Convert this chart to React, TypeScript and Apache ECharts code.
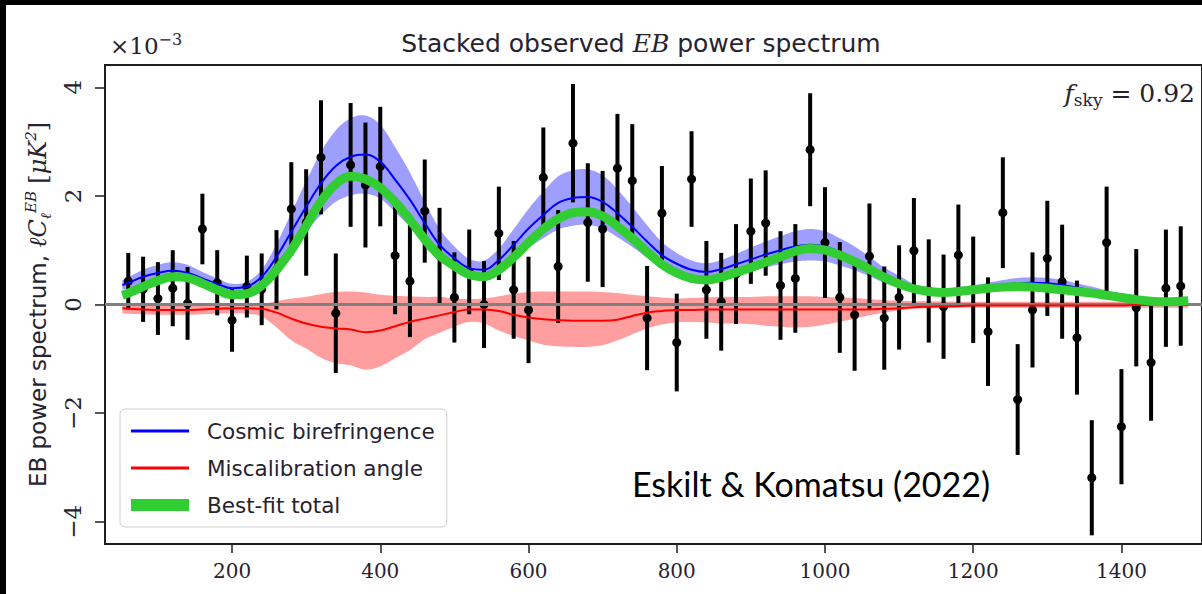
import { useEffect, useRef } from "react";
import * as echarts from "echarts";

// Axis ranges (multipole ell on x, power in units of 1e-3 uK^2 on y)
const X_MIN = 28.6;
const X_MAX = 1508.7;
const Y_MIN = -4.41;
const Y_MAX = 4.41;

const xTicks = [200, 400, 600, 800, 1000, 1200, 1400];
const yTicks = [-4, -2, 0, 2, 4];

// Binned, stacked observed EB band powers
const binEll = [
  60, 80, 100, 120, 140, 160, 180, 200, 220, 240,
  260, 280, 300, 320, 340, 360, 380, 400, 420, 440,
  460, 480, 500, 520, 540, 560, 580, 600, 620, 640,
  660, 680, 700, 720, 740, 760, 780, 800, 820, 840,
  860, 880, 900, 920, 940, 960, 980, 1000, 1020, 1040,
  1060, 1080, 1100, 1120, 1140, 1160, 1180, 1200, 1220, 1240,
  1260, 1280, 1300, 1320, 1340, 1360, 1380, 1400, 1420, 1440,
  1460, 1480,
];
const binPower = [
  0.43, 0.28, 0.11, 0.30, 0.02, 1.39, 0.40, -0.29, 0.33, 0.28,
  0.64, 1.76, 1.51, 2.71, -0.16, 2.57, 2.20, 2.54, 0.90, 0.43,
  1.72, 0.90, 0.13, 0.60, 0.00, 1.31, 0.27, -0.10, 2.34, 0.70,
  2.97, 1.51, 1.39, 2.51, 2.28, -0.25, 1.68, -0.70, 2.31, 0.27,
  0.05, 0.56, 1.35, 1.50, 0.35, 0.48, 2.85, 1.14, 0.13, -0.19,
  0.89, -0.25, 0.13, 0.99, 0.25, -0.04, 0.91, 0.27, -0.50, 1.69,
  -1.75, -0.10, 0.85, 0.42, -0.61, -3.19, 1.14, -2.25, -0.06, -1.07,
  0.30, 0.34,
];
const binError = [
  0.52, 0.60, 0.67, 0.70, 0.67, 0.65, 0.60, 0.58, 0.57, 0.66,
  0.73, 0.86, 0.98, 1.05, 1.10, 1.14, 1.15, 1.10, 1.08, 1.03,
  0.95, 0.88, 0.83, 0.78, 0.80, 0.86, 0.90, 0.98, 0.92, 1.04,
  1.09, 1.09, 1.07, 1.00, 1.04, 0.96, 0.87, 0.90, 0.88, 0.90,
  0.90, 0.92, 0.97, 0.97, 1.00, 1.00, 1.04, 1.02, 1.02, 1.03,
  0.97, 0.95, 0.96, 0.97, 0.95, 0.96, 0.93, 0.98, 1.00, 1.02,
  1.02, 1.06, 1.06, 1.05, 1.05, 1.06, 1.03, 1.06, 1.08, 1.07,
  1.08, 1.10,
];

// Model curves, sampled at the bin centres plus the two end points
const curveEll = [52, ...binEll, 1490];
const totalFit = [
  0.17, 0.21, 0.33, 0.44, 0.51, 0.49, 0.39, 0.27, 0.18, 0.20,
  0.35, 0.64, 1.00, 1.45, 1.90, 2.22, 2.36, 2.31, 2.15, 1.89,
  1.56, 1.20, 0.90, 0.71, 0.55, 0.51, 0.64, 0.87, 1.14, 1.39,
  1.58, 1.69, 1.71, 1.63, 1.44, 1.22, 0.97, 0.74, 0.58, 0.48,
  0.45, 0.50, 0.59, 0.68, 0.78, 0.88, 0.98, 1.03, 1.00, 0.91,
  0.79, 0.65, 0.50, 0.38, 0.29, 0.24, 0.22, 0.24, 0.27, 0.30,
  0.32, 0.33, 0.32, 0.30, 0.27, 0.24, 0.21, 0.17, 0.13, 0.09,
  0.06, 0.05, 0.06, 0.07,
];
const cosmicFit = [
  0.36, 0.40, 0.51, 0.58, 0.62, 0.58, 0.48, 0.38, 0.30, 0.33,
  0.51, 0.88, 1.34, 1.80, 2.23, 2.55, 2.72, 2.76, 2.63, 2.30,
  1.93, 1.50, 1.10, 0.85, 0.67, 0.64, 0.82, 1.10, 1.40, 1.65,
  1.87, 1.96, 1.98, 1.89, 1.68, 1.43, 1.16, 0.91, 0.75, 0.64,
  0.60, 0.65, 0.74, 0.83, 0.92, 1.00, 1.07, 1.10, 1.07, 0.97,
  0.85, 0.70, 0.54, 0.42, 0.30, 0.25, 0.23, 0.25, 0.28, 0.32,
  0.36, 0.39, 0.40, 0.39, 0.36, 0.31, 0.26, 0.21, 0.16, 0.12,
  0.09, 0.07, 0.07, 0.07,
];
const cosmicUpper = [
  0.45, 0.50, 0.64, 0.73, 0.78, 0.73, 0.60, 0.48, 0.38, 0.42,
  0.64, 1.11, 1.69, 2.27, 2.81, 3.21, 3.43, 3.48, 3.31, 2.90,
  2.43, 1.89, 1.39, 1.07, 0.84, 0.81, 1.03, 1.39, 1.76, 2.08,
  2.36, 2.47, 2.49, 2.38, 2.12, 1.80, 1.46, 1.15, 0.95, 0.81,
  0.76, 0.82, 0.93, 1.05, 1.16, 1.26, 1.35, 1.39, 1.35, 1.22,
  1.07, 0.88, 0.68, 0.53, 0.38, 0.32, 0.29, 0.32, 0.35, 0.40,
  0.45, 0.49, 0.50, 0.49, 0.45, 0.39, 0.33, 0.26, 0.20, 0.15,
  0.11, 0.09, 0.09, 0.09,
];
const cosmicLower = [
  0.27, 0.30, 0.38, 0.43, 0.46, 0.43, 0.36, 0.28, 0.22, 0.24,
  0.38, 0.65, 0.99, 1.33, 1.65, 1.89, 2.01, 2.04, 1.95, 1.70,
  1.43, 1.11, 0.81, 0.63, 0.50, 0.47, 0.61, 0.81, 1.04, 1.22,
  1.38, 1.45, 1.47, 1.40, 1.24, 1.06, 0.86, 0.67, 0.56, 0.47,
  0.44, 0.48, 0.55, 0.61, 0.68, 0.74, 0.79, 0.81, 0.79, 0.72,
  0.63, 0.52, 0.40, 0.31, 0.22, 0.19, 0.17, 0.19, 0.21, 0.24,
  0.27, 0.29, 0.30, 0.29, 0.27, 0.23, 0.19, 0.16, 0.12, 0.09,
  0.07, 0.05, 0.05, 0.05,
];
const miscalFit = [
  -0.07, -0.08, -0.09, -0.10, -0.10, -0.10, -0.09, -0.08, -0.07, -0.07,
  -0.08, -0.15, -0.26, -0.35, -0.41, -0.44, -0.46, -0.51, -0.48, -0.40,
  -0.32, -0.26, -0.20, -0.14, -0.09, -0.09, -0.12, -0.19, -0.24, -0.27,
  -0.29, -0.30, -0.30, -0.30, -0.28, -0.21, -0.15, -0.12, -0.10, -0.10,
  -0.09, -0.09, -0.09, -0.09, -0.09, -0.09, -0.09, -0.09, -0.09, -0.09,
  -0.09, -0.09, -0.08, -0.07, -0.05, -0.04, -0.03, -0.03, -0.02, -0.02,
  -0.02, -0.02, -0.02, -0.02, -0.02, -0.02, -0.02, -0.02, -0.02, -0.01,
  -0.01, -0.01, -0.01, -0.01,
];
const miscalUpper = [
  -0.02, -0.02, -0.02, -0.02, -0.02, -0.02, -0.02, -0.01, -0.01, 0.00,
  0.01, 0.06, 0.11, 0.14, 0.19, 0.23, 0.24, 0.22, 0.18, 0.16,
  0.15, 0.14, 0.14, 0.11, 0.10, 0.11, 0.15, 0.20, 0.23, 0.24,
  0.24, 0.24, 0.24, 0.23, 0.21, 0.18, 0.15, 0.13, 0.11, 0.12,
  0.13, 0.14, 0.14, 0.14, 0.15, 0.15, 0.15, 0.15, 0.14, 0.13,
  0.12, 0.10, 0.08, 0.07, 0.06, 0.06, 0.06, 0.05, 0.05, 0.05,
  0.05, 0.05, 0.05, 0.05, 0.05, 0.05, 0.05, 0.05, 0.05, 0.05,
  0.05, 0.05, 0.05, 0.05,
];
const miscalLower = [
  -0.16, -0.17, -0.18, -0.19, -0.19, -0.19, -0.18, -0.17, -0.16, -0.17,
  -0.22, -0.42, -0.66, -0.81, -0.98, -1.08, -1.12, -1.20, -1.14, -0.99,
  -0.84, -0.64, -0.52, -0.41, -0.32, -0.35, -0.48, -0.58, -0.66, -0.74,
  -0.77, -0.78, -0.78, -0.75, -0.66, -0.55, -0.44, -0.37, -0.33, -0.32,
  -0.33, -0.35, -0.35, -0.36, -0.39, -0.41, -0.42, -0.41, -0.37, -0.32,
  -0.26, -0.20, -0.15, -0.11, -0.08, -0.07, -0.07, -0.06, -0.06, -0.06,
  -0.06, -0.06, -0.06, -0.06, -0.06, -0.06, -0.06, -0.06, -0.06, -0.06,
  -0.06, -0.06, -0.06, -0.06,
];

const TEXT = "#262230";
const SERIF = "DejaVu Serif";
const SANS = "DejaVu Sans";

const pairs = (ys: number[]) => curveEll.map((l, i) => [l, ys[i]]);

// Catmull-Rom resampling of a pixel polyline so band edges come out smooth
function smoothPixels(pts: number[][], steps = 6): number[][] {
  const out: number[][] = [];
  const n = pts.length;
  for (let i = 0; i < n - 1; i++) {
    const p0 = pts[Math.max(0, i - 1)];
    const p1 = pts[i];
    const p2 = pts[i + 1];
    const p3 = pts[Math.min(n - 1, i + 2)];
    for (let s = 0; s < steps; s++) {
      const t = s / steps;
      const t2 = t * t;
      const t3 = t2 * t;
      const c = (a: number, b: number, d: number, e: number) =>
        0.5 * (2 * b + (-a + d) * t + (2 * a - 5 * b + 4 * d - e) * t2 + (-a + 3 * b - 3 * d + e) * t3);
      out.push([c(p0[0], p1[0], p2[0], p3[0]), c(p0[1], p1[1], p2[1], p3[1])]);
    }
  }
  out.push(pts[n - 1]);
  return out;
}

// A shaded confidence band drawn as one polygon through the axis scales
function bandSeries(name: string, lower: number[], upper: number[], color: string) {
  return {
    type: "custom",
    name,
    silent: true,
    data: [[curveEll[0], upper[0]]],
    encode: { x: 0, y: 1 },
    renderItem: (_params: any, api: any) => {
      const top = smoothPixels(curveEll.map((l, i) => api.coord([l, upper[i]])));
      const bottom = smoothPixels(curveEll.map((l, i) => api.coord([l, lower[i]])));
      return {
        type: "polygon",
        shape: { points: top.concat(bottom.reverse()) },
        style: { fill: color, stroke: "none" },
      };
    },
  };
}

const fmtY = (v: number) => (v < 0 ? "\u2212" + Math.abs(v) : String(v));

export default function App() {
  const ref = useRef<HTMLDivElement>(null);

  useEffect(() => {
    if (!ref.current) return;
    const chart = echarts.init(ref.current, null, { renderer: "svg" });

    const option: any = {
      animation: false,
      backgroundColor: "#ffffff",
      grid: {
        left: 105,
        top: 65,
        right: -2,
        bottom: 50,
        show: true,
        borderColor: "#1e1e1e",
        borderWidth: 2,
        backgroundColor: "transparent",
      },
      xAxis: {
        type: "value",
        min: X_MIN,
        max: X_MAX,
        axisLine: { show: false, onZero: false },
        splitLine: { show: false },
        axisTick: {
          show: true,
          length: 9,
          customValues: xTicks,
          lineStyle: { color: "#1e1e1e", width: 1.5 },
        },
        axisLabel: {
          customValues: xTicks,
          margin: 17,
          fontFamily: SERIF,
          fontSize: 20,
          color: TEXT,
          formatter: (v: number) => String(v),
        },
      },
      yAxis: {
        type: "value",
        min: Y_MIN,
        max: Y_MAX,
        axisLine: { show: false, onZero: false },
        splitLine: { show: false },
        axisTick: {
          show: true,
          length: 10,
          customValues: yTicks,
          lineStyle: { color: "#1e1e1e", width: 1.5 },
        },
        axisLabel: {
          customValues: yTicks,
          rotate: 90,
          margin: 21,
          fontFamily: SERIF,
          fontSize: 23,
          color: TEXT,
          formatter: fmtY,
        },
        name: "EB power spectrum, {m|\u2113C}{sub|\u2113}{sup|EB} {r|[}{m|\u03bcK}{sup|2}{r|]}",
        nameLocation: "middle",
        nameRotate: 90,
        nameGap: 52,
        nameTextStyle: {
          fontFamily: SANS,
          fontSize: 23,
          color: TEXT,
          lineHeight: 30,
          rich: {
            m: { fontFamily: SERIF, fontStyle: "italic", fontSize: 24, color: TEXT, lineHeight: 30 },
            r: { fontFamily: SERIF, fontSize: 24, color: TEXT, lineHeight: 30 },
            sub: { fontFamily: SERIF, fontStyle: "italic", fontSize: 15, color: TEXT, lineHeight: 15, verticalAlign: "bottom" },
            sup: { fontFamily: SERIF, fontStyle: "italic", fontSize: 15, color: TEXT, lineHeight: 15, verticalAlign: "top" },
          },
        },
      },
      legend: {
        orient: "vertical",
        left: 120,
        top: 409,
        selectedMode: false,
        itemWidth: 58,
        itemHeight: 14,
        itemGap: 13,
        padding: [10, 12, 10, 5],
        backgroundColor: "rgba(255,255,255,0.85)",
        borderColor: "#cfcfcf",
        borderWidth: 1,
        borderRadius: 5,
        itemStyle: { opacity: 0 },
        textStyle: {
          fontFamily: SANS,
          fontSize: 21.5,
          color: TEXT,
          lineHeight: 24,
          padding: [0, 0, 0, 13],
        },
        data: [
          { name: "Cosmic birefringence", lineStyle: { width: 3, color: "#0000ff", cap: "butt" }, itemStyle: { opacity: 0 } },
          { name: "Miscalibration angle", lineStyle: { width: 3, color: "#ff0000", cap: "butt" }, itemStyle: { opacity: 0 } },
          { name: "Best-fit total", lineStyle: { width: 12, color: "#32cd32", cap: "butt" }, itemStyle: { opacity: 0 } },
        ],
      },
      series: [
        bandSeries("cosmic band", cosmicLower, cosmicUpper, "rgba(0,0,255,0.38)"),
        bandSeries("miscalibration band", miscalLower, miscalUpper, "rgba(255,0,0,0.38)"),
        {
          type: "line",
          name: "zero",
          data: [
            [X_MIN, 0],
            [X_MAX, 0],
          ],
          symbol: "none",
          silent: true,
          lineStyle: { color: "#808080", width: 3 },
        },
        {
          type: "line",
          name: "Cosmic birefringence",
          data: pairs(cosmicFit),
          symbol: "none",
          smooth: 0.4,
          lineStyle: { color: "#0000ff", width: 2 },
          itemStyle: { color: "#0000ff" },
        },
        {
          type: "line",
          name: "Miscalibration angle",
          data: pairs(miscalFit),
          symbol: "none",
          smooth: 0.4,
          lineStyle: { color: "#ff0000", width: 2 },
          itemStyle: { color: "#ff0000" },
        },
        {
          type: "line",
          name: "Best-fit total",
          data: pairs(totalFit),
          symbol: "none",
          smooth: 0.4,
          lineStyle: { color: "#32cd32", width: 9, cap: "butt" },
          itemStyle: { color: "#32cd32" },
        },
        {
          type: "custom",
          name: "binned data",
          silent: true,
          clip: false,
          data: binEll.map((l, i) => [l, binPower[i], binError[i]]),
          encode: { x: 0, y: 1 },
          renderItem: (_params: any, api: any) => {
            const l = api.value(0);
            const v = api.value(1);
            const e = api.value(2);
            const top = api.coord([l, v + e]);
            const bot = api.coord([l, v - e]);
            const mid = api.coord([l, v]);
            return {
              type: "group",
              children: [
                {
                  type: "line",
                  shape: { x1: top[0], y1: top[1], x2: bot[0], y2: bot[1] },
                  style: { stroke: "#000000", lineWidth: 4 },
                },
                {
                  type: "circle",
                  shape: { cx: mid[0], cy: mid[1], r: 4.5 },
                  style: { fill: "#000000" },
                },
              ],
            };
          },
        },
      ],
      graphic: [
        { type: "rect", shape: { x: 0, y: 0, width: 1202, height: 5 }, style: { fill: "#000" }, z: 100 },
        { type: "rect", shape: { x: 0, y: 0, width: 6, height: 594 }, style: { fill: "#000" }, z: 100 },
        {
          type: "text",
          x: 641,
          y: 43,
          style: {
            text: "Stacked observed {m|EB} power spectrum",
            fontFamily: SANS,
            fontSize: 25,
            fill: TEXT,
            align: "center",
            verticalAlign: "middle",
            textAlign: "center",
            textVerticalAlign: "middle",
            rich: { m: { fontFamily: SERIF, fontStyle: "italic", fontSize: 25, fill: TEXT } },
          },
        },
        {
          type: "text",
          x: 110,
          y: 46,
          style: {
            text: "{a|\u00d710}{b|\u22123}",
            fill: TEXT,
            align: "left",
            verticalAlign: "middle",
            textAlign: "left",
            textVerticalAlign: "middle",
            rich: {
              a: { fontFamily: SERIF, fontSize: 23, fill: TEXT, lineHeight: 30 },
              b: { fontFamily: SERIF, fontSize: 16, fill: TEXT, lineHeight: 16, verticalAlign: "top" },
            },
          },
        },
        {
          type: "text",
          x: 1195,
          y: 93,
          style: {
            text: "{f|f}{s|sky}{e| = 0.92}",
            fill: TEXT,
            align: "right",
            verticalAlign: "middle",
            textAlign: "right",
            textVerticalAlign: "middle",
            rich: {
              f: { fontFamily: SERIF, fontStyle: "italic", fontSize: 25, fill: TEXT, lineHeight: 30 },
              s: { fontFamily: SERIF, fontSize: 17, fill: TEXT, lineHeight: 17, verticalAlign: "bottom" },
              e: { fontFamily: SERIF, fontSize: 25, fill: TEXT, lineHeight: 30 },
            },
          },
        },
        {
          type: "text",
          x: 632,
          y: 483,
          style: {
            text: "Eskilt & Komatsu (2022)",
            fontFamily: "Lato",
            fontSize: 34,
            fill: "#000000",
            align: "left",
            verticalAlign: "middle",
            textAlign: "left",
            textVerticalAlign: "middle",
          },
        },
      ],
    };

    chart.setOption(option);
    return () => chart.dispose();
  }, []);

  return (
    <div
      ref={ref}
      style={{ position: "fixed", left: 0, top: 0, width: 1202, height: 594, background: "#ffffff" }}
    />
  );
}
